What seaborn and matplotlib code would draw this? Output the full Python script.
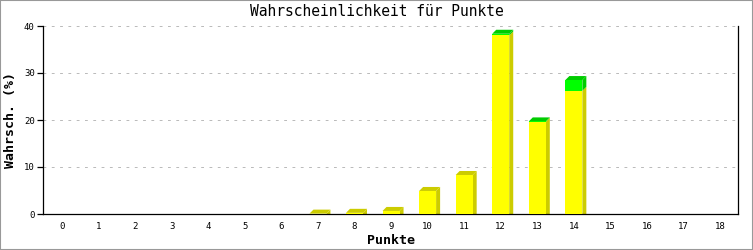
import matplotlib
matplotlib.use("Agg")
import matplotlib.pyplot as plt
from matplotlib.patches import Polygon, Rectangle
import seaborn as sns
import pandas as pd

# ---- data ----
punkte = list(range(19))
gelb = [0, 0, 0, 0, 0, 0, 0, 0.08, 0.25, 0.65, 4.9, 8.3, 38.0, 19.6, 26.2, 0, 0, 0, 0]
gruen = [0, 0, 0, 0, 0, 0, 0, 0, 0, 0, 0, 0, 0.35, 0.1, 2.3, 0, 0, 0, 0]
title = "Wahrscheinlichkeit für Punkte"
xlabel = "Punkte"
ylabel = "Wahrsch. (%)"
yticks = [0, 10, 20, 30, 40]

sns.set_theme(style="white")
plt.rcParams["font.family"] = ["DejaVu Sans Mono"]
for k in ["text.color", "axes.labelcolor", "xtick.color", "ytick.color"]:
    plt.rcParams[k] = "black"

W, H = 753, 250
fig = plt.figure(figsize=(W / 100, H / 100), dpi=100)
L, R, B, T = 43 / W, 738 / W, 1 - 214 / H, 1 - 26 / H
ax = fig.add_axes([L, B, R - L, T - B])

df = pd.DataFrame({"p": [str(p) for p in punkte], "gelb": gelb,
                   "total": [a + b for a, b in zip(gelb, gruen)]})

BW = 0.465
sns.barplot(data=df, x="p", y="total", color="#00FF00", saturation=1,
            width=BW, ax=ax, linewidth=0, zorder=3)
sns.barplot(data=df, x="p", y="gelb", color="#FFFF00", saturation=1,
            width=BW, ax=ax, linewidth=0, zorder=3)

xmin, xmax = -0.52, 18.49
ymin, ymax = 0, 40
ax.set_xlim(xmin, xmax)
ax.set_ylim(ymin, ymax)

pxx = (R - L) * W / (xmax - xmin)
pxy = (T - B) * H / (ymax - ymin)
dx = 4 / pxx
dy = 4 / pxy

dark_y = "#CCCC00"
dark_g = "#00CC00"
n = len(punkte)
for i, patch in enumerate(ax.patches[n:2 * n]):
    x0 = patch.get_x()
    x1 = x0 + patch.get_width()
    g = gelb[i]
    t = gelb[i] + gruen[i]
    if t <= 0:
        continue
    ax.add_patch(Polygon([(x1, 0), (x1 + dx, 0), (x1 + dx, g + dy), (x1, g)],
                         closed=True, facecolor=dark_y, edgecolor="none", zorder=2.5))
    if gruen[i] > 0:
        ax.add_patch(Polygon([(x1, g), (x1 + dx, g + dy), (x1 + dx, t + dy), (x1, t)],
                             closed=True, facecolor=dark_g, edgecolor="none", zorder=2.5))
    topc = dark_g if gruen[i] > 0 else dark_y
    ax.add_patch(Polygon([(x0, t), (x0 + dx, t + dy), (x1 + dx, t + dy), (x1, t)],
                         closed=True, facecolor=topc, edgecolor="none", zorder=2.6))

# grid
for yv in yticks[1:]:
    ax.axhline(yv, color="#BBBBBB", lw=0.72, ls=(0, (2.8, 5.5)), zorder=1)

ax.set_yticks(yticks)
ax.set_yticklabels([str(v) for v in yticks], fontsize=6.5)
ax.set_xticks(range(n))
ax.set_xticklabels([str(p) for p in punkte], fontsize=6.5)
ax.tick_params(axis="y", length=4, width=0.9, color="black", pad=2, left=True)
ax.tick_params(axis="x", length=0, pad=6)

for s in ["left", "bottom", "right"]:
    ax.spines[s].set_visible(True)
    ax.spines[s].set_color("black")
    ax.spines[s].set_linewidth(0.9)
ax.spines["top"].set_visible(False)

ax.set_xlabel(xlabel, fontsize=9.5, fontweight="bold", labelpad=2)
ax.set_ylabel(ylabel, fontsize=9.5, fontweight="bold", labelpad=5)
fig.text(0.5, 1 - 12 / H, title, ha="center", va="center", fontsize=10.5)

fig.patches.append(Rectangle((0, 0), 1, 1, transform=fig.transFigure, fill=False,
                             edgecolor="#999999", lw=1.5, zorder=10))

fig.savefig("out.png", dpi=100, facecolor="white")
